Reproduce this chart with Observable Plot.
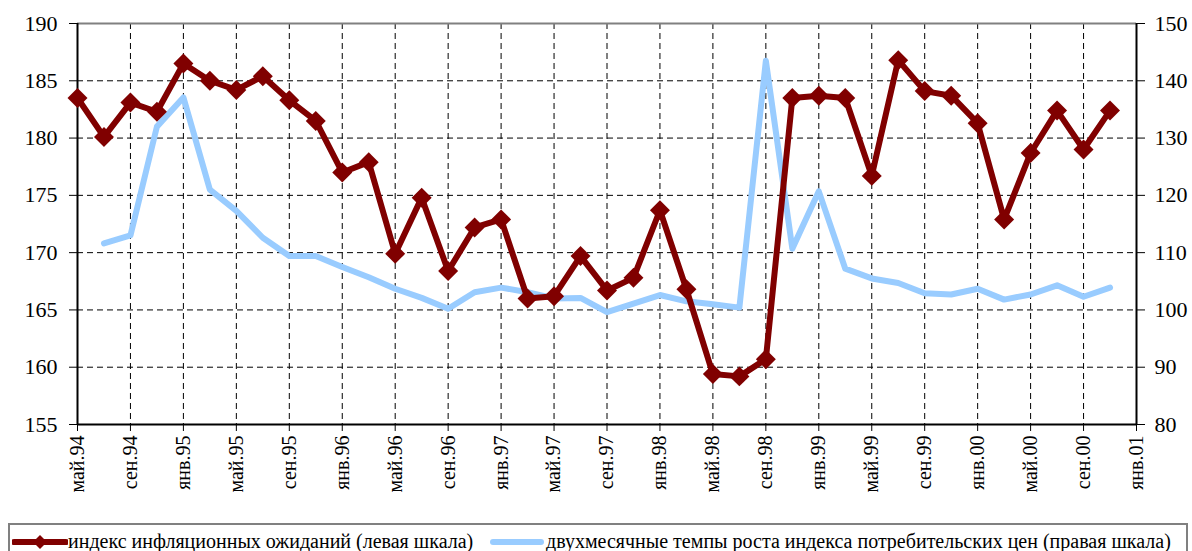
<!DOCTYPE html>
<html>
<head>
<meta charset="utf-8">
<script src="https://cdn.jsdelivr.net/npm/d3@7"></script>
<script src="https://cdn.jsdelivr.net/npm/@observablehq/plot@0.6"></script>
<style>
  html, body { margin: 0; padding: 0; background: #fff; }
  body { width: 1192px; height: 551px; overflow: hidden; font-family: 'Liberation Serif', 'DejaVu Serif', 'Times New Roman', serif; }
  #chart svg, #chart svg text { font-family: 'Liberation Serif', 'DejaVu Serif', 'Times New Roman', serif !important; }
  #legend { position: absolute; left: 8px; top: 523px; width: 1180px; height: 40px; border: 2px solid #808080; box-sizing: border-box; font-size: 20px; color: #000; }
  #legend .item { position: absolute; top: 5px; white-space: nowrap; display: flex; align-items: center; }
  #legend svg { display: block; }
</style>
</head>
<body>
<div id="chart"></div>
<div id="legend">
  <div class="item" style="left:2px"><svg width="56" height="20"><line x1="2" y1="10" x2="54" y2="10" stroke="#800000" stroke-width="6" stroke-linecap="round"/><path d="M28,3 L35,10 L28,17 L21,10 Z" fill="#800000"/></svg><span id="l1"></span></div>
  <div class="item" style="left:478px"><svg width="58" height="20"><line x1="5" y1="10" x2="53" y2="10" stroke="#99CCFF" stroke-width="6" stroke-linecap="round"/></svg><span id="l2"></span></div>
</div>
<script>
// Tick labels (every 4 months, May 1994 .. Jan 2001)
const tickLabels = ["май.94","сен.94","янв.95","май.95","сен.95","янв.96","май.96","сен.96","янв.97","май.97","сен.97","янв.98","май.98","сен.98","янв.99","май.99","сен.99","янв.00","май.00","сен.00","янв.01"];
// Bimonthly observations, May 1994 .. Nov 2000 (index 0..39)
const expectations = [183.5,180.1,183.1,182.3,186.5,185.0,184.2,185.4,183.3,181.5,177.0,177.9,169.9,174.8,168.4,172.2,172.9,166.0,166.2,169.7,166.7,167.8,173.7,166.8,159.4,159.2,160.7,183.5,183.7,183.5,176.7,186.8,184.1,183.7,181.3,172.9,178.7,182.4,179.0,182.4];
const cpiGrowth = [null,111.6,113.0,132.0,137.1,121.0,117.3,112.6,109.4,109.4,107.5,105.7,103.7,102.1,100.2,103.1,103.9,103.1,102.0,102.1,99.6,101.1,102.6,101.5,101.0,100.4,143.5,110.7,120.7,107.2,105.5,104.7,102.9,102.7,103.7,101.8,102.7,104.3,102.3,103.9];
const leftTicks = [155,160,165,170,175,180,185,190];
const rightTicks = [80,90,100,110,120,130,140,150];
const legendLabels = ["индекс инфляционных ожиданий (левая шкала)", "двухмесячные темпы роста индекса потребительских цен (правая шкала)"];

document.getElementById("l1").textContent = legendLabels[0];
document.getElementById("l2").textContent = legendLabels[1];

// right scale [80,150] mapped onto left scale [155,190]
const toLeft = v => 155 + (v - 80) * 35 / 70;

const red = expectations.map((v, i) => ({i, v}));
const blue = cpiGrowth.map((v, i) => ({i, v: v == null ? null : toLeft(v)})).filter(d => d.v != null);
const xTicks = tickLabels.map((_, k) => k * 2);

const plot = Plot.plot({
  width: 1192,
  height: 520,
  marginLeft: 77,
  marginRight: 56,
  marginTop: 23,
  marginBottom: 96,
  style: {fontFamily: "'Liberation Serif', 'DejaVu Serif', 'Times New Roman', serif", fontSize: "22px", color: "#000", background: "#fff", overflow: "visible"},
  x: {type: "linear", domain: [0, 40], axis: null},
  y: {domain: [155, 190], axis: null},
  marks: [
    Plot.gridX(xTicks.filter(t => t > 0 && t < 40), {stroke: "#000", strokeOpacity: 1, strokeWidth: 1, strokeDasharray: "6,4"}),
    Plot.gridY(leftTicks.filter(t => t > 155 && t < 190), {stroke: "#000", strokeOpacity: 1, strokeWidth: 1, strokeDasharray: "6,4"}),
    Plot.ruleY([190], {stroke: "#808080", strokeWidth: 2}),
    Plot.ruleX([0], {stroke: "#000", strokeWidth: 2}),
    Plot.ruleX([40], {stroke: "#000", strokeWidth: 2}),
    Plot.ruleY([155], {stroke: "#000", strokeWidth: 2}),
    Plot.axisY(leftTicks, {anchor: "left", tickSize: 8, tickPadding: 12, fontSize: 22, label: null}),
    Plot.axisY(rightTicks.map(toLeft), {anchor: "right", tickSize: 8, tickPadding: 10, fontSize: 22, label: null, tickFormat: (v, k) => String(rightTicks[k])}),
    Plot.axisX(xTicks, {anchor: "bottom", tickSize: 7, tickPadding: 4, tickRotate: -90, fontSize: 20, label: null, tickFormat: v => tickLabels[v / 2]}),
    Plot.line(blue, {x: "i", y: "v", stroke: "#99CCFF", strokeWidth: 6, strokeLinejoin: "round", strokeLinecap: "round"}),
    Plot.line(red, {x: "i", y: "v", stroke: "#800000", strokeWidth: 6, strokeLinejoin: "round"}),
    Plot.dot(red, {x: "i", y: "v", symbol: "diamond2", r: 9, fill: "#800000", stroke: "none"})
  ]
});
document.getElementById("chart").appendChild(plot);
</script>
</body>
</html>
